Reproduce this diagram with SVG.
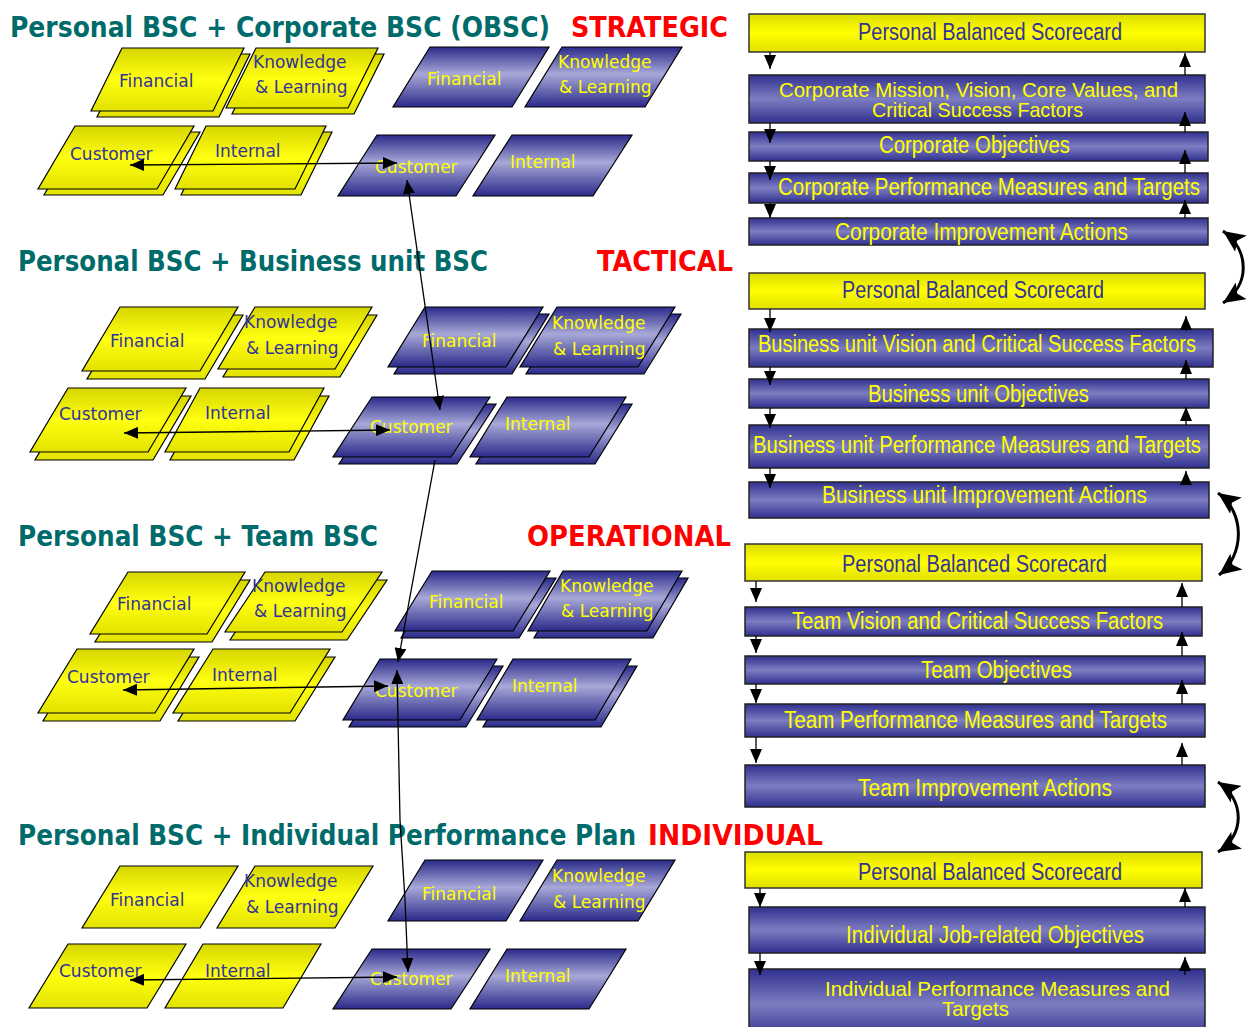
<svg xmlns="http://www.w3.org/2000/svg" width="1251" height="1027" viewBox="0 0 1251 1027">
<defs>
<linearGradient id="gy" x1="0" y1="0" x2="0" y2="1"><stop offset="0" stop-color="#d6d600"/><stop offset="0.5" stop-color="#ffff10"/><stop offset="1" stop-color="#e2e200"/></linearGradient>
<linearGradient id="gb" x1="0" y1="0" x2="0" y2="1"><stop offset="0" stop-color="#2a2a8a"/><stop offset="0.45" stop-color="#a8a8d8"/><stop offset="1" stop-color="#2a2a8a"/></linearGradient>
<linearGradient id="gyb" x1="0" y1="0" x2="0" y2="1"><stop offset="0" stop-color="#dcdc00"/><stop offset="0.5" stop-color="#ffff00"/><stop offset="1" stop-color="#e0e000"/></linearGradient>
<linearGradient id="gbb" x1="0" y1="0" x2="0" y2="1"><stop offset="0" stop-color="#30308f"/><stop offset="0.5" stop-color="#7d7dc2"/><stop offset="1" stop-color="#30308f"/></linearGradient>
<marker id="ah" markerUnits="userSpaceOnUse" markerWidth="14" markerHeight="12" refX="14" refY="6" orient="auto-start-reverse"><path d="M0,0 L14,6 L0,12 z" fill="#000"/></marker>
<marker id="ah2" markerUnits="userSpaceOnUse" markerWidth="14" markerHeight="12" refX="14" refY="6" orient="auto-start-reverse"><path d="M0,0 L14,6 L0,12 z" fill="#000"/></marker>
<marker id="ah3" markerUnits="userSpaceOnUse" markerWidth="22" markerHeight="20" refX="22" refY="10" orient="auto-start-reverse"><path d="M0,0 L22,10 L0,20 L5,10 z" fill="#000"/></marker>
<style>
.py{fill:url(#gy);stroke:#000;stroke-width:1.2}
.pb{fill:url(#gb);stroke:#000;stroke-width:1.2}
.ty{font-family:"DejaVu Sans",sans-serif;font-size:17px;fill:#333399}
.tb{font-family:"DejaVu Sans",sans-serif;font-size:17px;fill:#ffff00}
.ry{fill:url(#gyb);stroke:#333;stroke-width:1.5}
.rb{fill:url(#gbb);stroke:#222;stroke-width:1.5}
.rty{font-family:"Liberation Sans",sans-serif;font-size:23px;fill:#333399}
.rtb{font-family:"Liberation Sans",sans-serif;font-size:23px;fill:#ffff00}
.rt2{font-family:"Liberation Sans",sans-serif;font-size:21px;fill:#ffff00}
.ttl{font-family:"DejaVu Sans",sans-serif;font-weight:bold;font-size:29px;fill:#006b6b}
.lvl{font-family:"DejaVu Sans",sans-serif;font-weight:bold;font-size:29px;fill:#ff0000}
.ln{stroke:#000;stroke-width:1.3;fill:none}
.lr{stroke:#000;stroke-width:1.3;fill:none}
.lc{stroke:#000;stroke-width:3;fill:none}
</style>
</defs>
<rect width="1251" height="1027" fill="#fff"/>

<g id="titles">
<text class="ttl" x="10" y="37" textLength="540" lengthAdjust="spacingAndGlyphs">Personal BSC + Corporate BSC  (OBSC)</text>
<text class="lvl" x="571" y="37" textLength="157" lengthAdjust="spacingAndGlyphs">STRATEGIC</text>
<text class="ttl" x="18" y="271" textLength="470" lengthAdjust="spacingAndGlyphs">Personal BSC + Business unit BSC</text>
<text class="lvl" x="597" y="271" textLength="136" lengthAdjust="spacingAndGlyphs">TACTICAL</text>
<text class="ttl" x="18" y="546" textLength="360" lengthAdjust="spacingAndGlyphs">Personal BSC + Team BSC</text>
<text class="lvl" x="527" y="546" textLength="204" lengthAdjust="spacingAndGlyphs">OPERATIONAL</text>
<text class="ttl" x="18" y="845" textLength="618" lengthAdjust="spacingAndGlyphs">Personal BSC + Individual Performance Plan</text>
<text class="lvl" x="648" y="845" textLength="175" lengthAdjust="spacingAndGlyphs">INDIVIDUAL</text>
</g>

<!-- Section 1 -->
<g id="s1-y-financial"><polygon class="py" points="128,54 250,54 219,117 97,117"/><polygon class="py" points="122,48 244,48 213,111 91,111"/><text class="ty" x="119" y="87">Financial</text></g>
<g id="s1-y-knowledge"><polygon class="py" points="262,54 384,54 354,114 232,114"/><polygon class="py" points="256,48 378,48 348,108 226,108"/><text class="ty" x="253" y="68">Knowledge</text><text class="ty" x="255" y="93">&amp; Learning</text></g>
<g id="s1-y-customer"><polygon class="py" points="81,132 200,132 163,195 44,195"/><polygon class="py" points="75,126 194,126 157,189 38,189"/><text class="ty" x="70" y="160">Customer</text></g>
<g id="s1-y-internal"><polygon class="py" points="212,132 332,132 301,195 181,195"/><polygon class="py" points="206,126 326,126 295,189 175,189"/><text class="ty" x="215" y="157">Internal</text></g>
<g id="s1-b-financial"><polygon class="pb" points="430,47 549,47 512,107 393,107"/><text class="tb" x="427" y="85">Financial</text></g>
<g id="s1-b-knowledge"><polygon class="pb" points="562,47 682,47 645,107 525,107"/><text class="tb" x="558" y="68">Knowledge</text><text class="tb" x="559" y="93">&amp; Learning</text></g>
<g id="s1-b-customer"><polygon class="pb" points="377,135 495,135 456,196 338,196"/><text class="tb" x="375" y="173">Customer</text></g>
<g id="s1-b-internal"><polygon class="pb" points="512,135 632,135 593,196 473,196"/><text class="tb" x="510" y="168">Internal</text></g>

<!-- Section 2 -->
<g id="s2-y-financial"><polygon class="py" points="125,315 243,315 205,379 87,379"/><polygon class="py" points="120,307 238,307 200,371 82,371"/><text class="ty" x="110" y="347">Financial</text></g>
<g id="s2-y-knowledge"><polygon class="py" points="260,315 377,315 340,377 223,377"/><polygon class="py" points="255,307 372,307 335,369 218,369"/><text class="ty" x="244" y="328">Knowledge</text><text class="ty" x="246" y="354">&amp; Learning</text></g>
<g id="s2-y-customer"><polygon class="py" points="73,396 191,396 153,460 35,460"/><polygon class="py" points="68,388 186,388 148,452 30,452"/><text class="ty" x="59" y="420">Customer</text></g>
<g id="s2-y-internal"><polygon class="py" points="205,396 329,396 294,460 170,460"/><polygon class="py" points="200,388 324,388 289,452 165,452"/><text class="ty" x="205" y="419">Internal</text></g>
<g id="s2-b-financial"><polygon class="pb" points="431,314 549,314 512,374 394,374"/><polygon class="pb" points="425,307 543,307 506,367 388,367"/><text class="tb" x="422" y="347">Financial</text></g>
<g id="s2-b-knowledge"><polygon class="pb" points="563,314 681,314 644,374 526,374"/><polygon class="pb" points="557,307 675,307 638,367 520,367"/><text class="tb" x="552" y="329">Knowledge</text><text class="tb" x="553" y="355">&amp; Learning</text></g>
<g id="s2-b-customer"><polygon class="pb" points="378,404 496,404 457,464 339,464"/><polygon class="pb" points="372,397 490,397 451,457 333,457"/><text class="tb" x="370" y="433">Customer</text></g>
<g id="s2-b-internal"><polygon class="pb" points="513,404 632,404 595,464 476,464"/><polygon class="pb" points="507,397 626,397 589,457 470,457"/><text class="tb" x="505" y="430">Internal</text></g>

<!-- Section 3 -->
<g id="s3-y-financial"><polygon class="py" points="133,580 250,580 212,642 95,642"/><polygon class="py" points="128,572 245,572 207,634 90,634"/><text class="ty" x="117" y="610">Financial</text></g>
<g id="s3-y-knowledge"><polygon class="py" points="270,580 387,580 347,640 230,640"/><polygon class="py" points="265,572 382,572 342,632 225,632"/><text class="ty" x="252" y="592">Knowledge</text><text class="ty" x="254" y="617">&amp; Learning</text></g>
<g id="s3-y-customer"><polygon class="py" points="82,657 199,657 160,721 43,721"/><polygon class="py" points="77,649 194,649 155,713 38,713"/><text class="ty" x="67" y="683">Customer</text></g>
<g id="s3-y-internal"><polygon class="py" points="218,657 335,657 295,721 178,721"/><polygon class="py" points="213,649 330,649 290,713 173,713"/><text class="ty" x="212" y="681">Internal</text></g>
<g id="s3-b-financial"><polygon class="pb" points="438,578 556,578 519,638 401,638"/><polygon class="pb" points="432,571 550,571 513,631 395,631"/><text class="tb" x="429" y="608">Financial</text></g>
<g id="s3-b-knowledge"><polygon class="pb" points="569,578 688,578 653,638 534,638"/><polygon class="pb" points="563,571 682,571 647,631 528,631"/><text class="tb" x="560" y="592">Knowledge</text><text class="tb" x="561" y="617">&amp; Learning</text></g>
<g id="s3-b-customer"><polygon class="pb" points="386,666 503,666 466,727 349,727"/><polygon class="pb" points="380,659 497,659 460,720 343,720"/><text class="tb" x="375" y="697">Customer</text></g>
<g id="s3-b-internal"><polygon class="pb" points="519,666 637,666 601,727 483,727"/><polygon class="pb" points="513,659 631,659 595,720 477,720"/><text class="tb" x="512" y="692">Internal</text></g>

<!-- Section 4 -->
<g id="s4-y-financial"><polygon class="py" points="120,866 238,866 200,928 82,928"/><text class="ty" x="110" y="906">Financial</text></g>
<g id="s4-y-knowledge"><polygon class="py" points="255,866 373,866 335,928 217,928"/><text class="ty" x="244" y="887">Knowledge</text><text class="ty" x="246" y="913">&amp; Learning</text></g>
<g id="s4-y-customer"><polygon class="py" points="68,944 186,944 147,1008 29,1008"/><text class="ty" x="59" y="977">Customer</text></g>
<g id="s4-y-internal"><polygon class="py" points="203,944 321,944 283,1008 165,1008"/><text class="ty" x="205" y="977">Internal</text></g>
<g id="s4-b-financial"><polygon class="pb" points="425,860 543,860 506,921 388,921"/><text class="tb" x="422" y="900">Financial</text></g>
<g id="s4-b-knowledge"><polygon class="pb" points="557,860 675,860 638,921 520,921"/><text class="tb" x="552" y="882">Knowledge</text><text class="tb" x="553" y="908">&amp; Learning</text></g>
<g id="s4-b-customer"><polygon class="pb" points="372,949 490,949 451,1009 333,1009"/><text class="tb" x="370" y="985">Customer</text></g>
<g id="s4-b-internal"><polygon class="pb" points="507,949 626,949 589,1009 470,1009"/><text class="tb" x="505" y="982">Internal</text></g>

<!-- Right column -->
<g id="r1-pbs"><rect class="ry" x="749" y="14" width="456" height="38"/><text class="rty" x="858" y="40" textLength="264" lengthAdjust="spacingAndGlyphs">Personal Balanced Scorecard</text></g>
<g id="r1-mission"><rect class="rb" x="749" y="75" width="456" height="48"/><text class="rt2" x="779" y="97" textLength="399" lengthAdjust="spacingAndGlyphs">Corporate Mission, Vision, Core Values, and</text><text class="rt2" x="872" y="117" textLength="211" lengthAdjust="spacingAndGlyphs">Critical Success Factors</text></g>
<g id="r1-objectives"><rect class="rb" x="749" y="132" width="459" height="29"/><text class="rtb" x="879" y="153" textLength="191" lengthAdjust="spacingAndGlyphs">Corporate Objectives</text></g>
<g id="r1-measures"><rect class="rb" x="749" y="173" width="459" height="30"/><text class="rtb" x="778" y="195" textLength="422" lengthAdjust="spacingAndGlyphs">Corporate Performance Measures and Targets</text></g>
<g id="r1-actions"><rect class="rb" x="749" y="218" width="459" height="27"/><text class="rtb" x="835" y="240" textLength="293" lengthAdjust="spacingAndGlyphs">Corporate Improvement Actions</text></g>

<g id="r2-pbs"><rect class="ry" x="749" y="273" width="456" height="36"/><text class="rty" x="842" y="298" textLength="262" lengthAdjust="spacingAndGlyphs">Personal Balanced Scorecard</text></g>
<g id="r2-vision"><rect class="rb" x="749" y="329" width="464" height="38"/><text class="rtb" x="758" y="352" textLength="438" lengthAdjust="spacingAndGlyphs">Business unit Vision and Critical Success Factors</text></g>
<g id="r2-objectives"><rect class="rb" x="749" y="379" width="460" height="29"/><text class="rtb" x="868" y="402" textLength="221" lengthAdjust="spacingAndGlyphs">Business unit Objectives</text></g>
<g id="r2-measures"><rect class="rb" x="749" y="425" width="460" height="43"/><text class="rtb" x="753" y="453" textLength="448" lengthAdjust="spacingAndGlyphs">Business unit Performance Measures and Targets</text></g>
<g id="r2-actions"><rect class="rb" x="749" y="482" width="460" height="36"/><text class="rtb" x="822" y="503" textLength="325" lengthAdjust="spacingAndGlyphs">Business unit Improvement Actions</text></g>

<g id="r3-pbs"><rect class="ry" x="745" y="544" width="457" height="37"/><text class="rty" x="842" y="572" textLength="265" lengthAdjust="spacingAndGlyphs">Personal Balanced Scorecard</text></g>
<g id="r3-vision"><rect class="rb" x="745" y="607" width="457" height="29"/><text class="rtb" x="792" y="629" textLength="371" lengthAdjust="spacingAndGlyphs">Team Vision and Critical Success Factors</text></g>
<g id="r3-objectives"><rect class="rb" x="745" y="656" width="460" height="28"/><text class="rtb" x="921" y="678" textLength="151" lengthAdjust="spacingAndGlyphs">Team Objectives</text></g>
<g id="r3-measures"><rect class="rb" x="745" y="704" width="460" height="33"/><text class="rtb" x="784" y="728" textLength="383" lengthAdjust="spacingAndGlyphs">Team Performance Measures and Targets</text></g>
<g id="r3-actions"><rect class="rb" x="745" y="765" width="460" height="42"/><text class="rtb" x="858" y="796" textLength="254" lengthAdjust="spacingAndGlyphs">Team Improvement Actions</text></g>

<g id="r4-pbs"><rect class="ry" x="745" y="852" width="457" height="36"/><text class="rty" x="858" y="880" textLength="264" lengthAdjust="spacingAndGlyphs">Personal Balanced Scorecard</text></g>
<g id="r4-objectives"><rect class="rb" x="749" y="907" width="456" height="46"/><text class="rtb" x="846" y="943" textLength="298" lengthAdjust="spacingAndGlyphs">Individual Job-related Objectives</text></g>
<g id="r4-measures"><rect class="rb" x="749" y="969" width="456" height="70"/><text class="rt2" x="825" y="996" textLength="345" lengthAdjust="spacingAndGlyphs">Individual Performance Measures and</text><text class="rt2" x="942" y="1016" textLength="67" lengthAdjust="spacingAndGlyphs">Targets</text></g>

<g id="connectors">
<line class="ln" x1="130" y1="165" x2="397" y2="163" marker-start="url(#ah)" marker-end="url(#ah)"/>
<line class="ln" x1="124" y1="433" x2="390" y2="430" marker-start="url(#ah)" marker-end="url(#ah)"/>
<line class="ln" x1="123" y1="690" x2="388" y2="686" marker-start="url(#ah)" marker-end="url(#ah)"/>
<line class="ln" x1="130" y1="980" x2="397" y2="977" marker-start="url(#ah)" marker-end="url(#ah)"/>
<line class="ln" x1="407" y1="180" x2="440" y2="410" marker-start="url(#ah)" marker-end="url(#ah)"/>
<line class="ln" x1="435" y1="460" x2="398" y2="662" marker-end="url(#ah)"/>
<polyline class="ln" points="397,670 400,820 405,900 408,972" marker-start="url(#ah)" marker-end="url(#ah)"/>

<line class="lr" x1="770" y1="52" x2="770" y2="69" marker-end="url(#ah2)"/>
<line class="lr" x1="770" y1="123" x2="770" y2="143" marker-end="url(#ah2)"/>
<line class="lr" x1="770" y1="161" x2="770" y2="180" marker-end="url(#ah2)"/>
<line class="lr" x1="770" y1="203" x2="770" y2="218" marker-end="url(#ah2)"/>
<line class="lr" x1="1185" y1="75" x2="1185" y2="53" marker-end="url(#ah2)"/>
<line class="lr" x1="1185" y1="132" x2="1185" y2="112" marker-end="url(#ah2)"/>
<line class="lr" x1="1185" y1="173" x2="1185" y2="150" marker-end="url(#ah2)"/>
<line class="lr" x1="1185" y1="218" x2="1185" y2="200" marker-end="url(#ah2)"/>

<line class="lr" x1="770" y1="309" x2="770" y2="332" marker-end="url(#ah2)"/>
<line class="lr" x1="770" y1="367" x2="770" y2="385" marker-end="url(#ah2)"/>
<line class="lr" x1="770" y1="408" x2="770" y2="428" marker-end="url(#ah2)"/>
<line class="lr" x1="770" y1="468" x2="770" y2="488" marker-end="url(#ah2)"/>
<line class="lr" x1="1186" y1="331" x2="1186" y2="316" marker-end="url(#ah2)"/>
<line class="lr" x1="1186" y1="379" x2="1186" y2="360" marker-end="url(#ah2)"/>
<line class="lr" x1="1186" y1="425" x2="1186" y2="407" marker-end="url(#ah2)"/>
<line class="lr" x1="1186" y1="482" x2="1186" y2="471" marker-end="url(#ah2)"/>

<line class="lr" x1="756" y1="581" x2="756" y2="602" marker-end="url(#ah2)"/>
<line class="lr" x1="756" y1="636" x2="756" y2="653" marker-end="url(#ah2)"/>
<line class="lr" x1="756" y1="684" x2="756" y2="703" marker-end="url(#ah2)"/>
<line class="lr" x1="756" y1="737" x2="756" y2="763" marker-end="url(#ah2)"/>
<line class="lr" x1="1182" y1="607" x2="1182" y2="583" marker-end="url(#ah2)"/>
<line class="lr" x1="1182" y1="656" x2="1182" y2="632" marker-end="url(#ah2)"/>
<line class="lr" x1="1182" y1="704" x2="1182" y2="680" marker-end="url(#ah2)"/>
<line class="lr" x1="1182" y1="765" x2="1182" y2="743" marker-end="url(#ah2)"/>

<line class="lr" x1="760" y1="888" x2="760" y2="907" marker-end="url(#ah2)"/>
<line class="lr" x1="760" y1="953" x2="760" y2="975" marker-end="url(#ah2)"/>
<line class="lr" x1="1185" y1="907" x2="1185" y2="888" marker-end="url(#ah2)"/>
<line class="lr" x1="1185" y1="975" x2="1185" y2="957" marker-end="url(#ah2)"/>

<path class="lc" d="M1223,231 C1250,250 1250,285 1223,303" marker-start="url(#ah3)" marker-end="url(#ah3)"/>
<path class="lc" d="M1218,493 C1245,512 1245,555 1219,575" marker-start="url(#ah3)" marker-end="url(#ah3)"/>
<path class="lc" d="M1218,782 C1245,800 1245,835 1218,852" marker-start="url(#ah3)" marker-end="url(#ah3)"/>
</g>
</svg>
